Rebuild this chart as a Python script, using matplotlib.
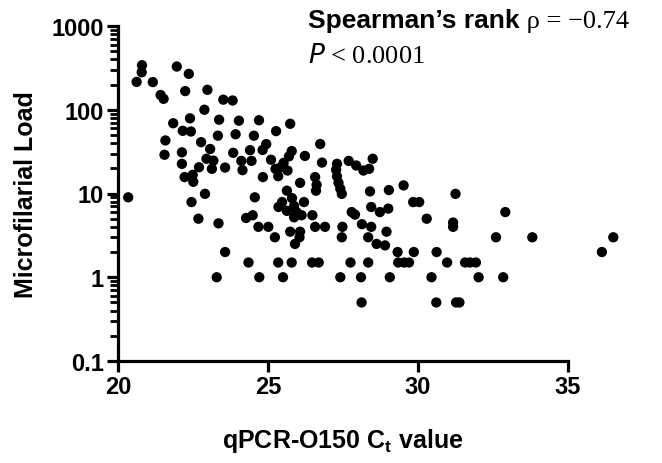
import matplotlib
matplotlib.use("Agg")
import matplotlib.pyplot as plt
from matplotlib.ticker import FixedLocator, FixedFormatter, LogLocator, NullFormatter

plt.rcParams['font.family'] = ['Liberation Sans', 'DejaVu Sans']
plt.rcParams['mathtext.fontset'] = 'custom'
plt.rcParams['mathtext.rm'] = 'Liberation Sans:bold'
plt.rcParams['mathtext.bf'] = 'Liberation Sans:bold'

# Ct values and microfilarial loads
ct = [20.34, 20.80, 20.79, 20.62, 21.16, 21.42, 21.52, 21.58, 21.55, 21.96,
      22.36, 22.24, 21.84, 22.16, 22.43, 22.40, 22.13, 22.13, 22.22, 22.49,
      22.51, 22.45, 22.68, 22.70, 22.98, 22.88, 23.51, 23.82, 23.37, 24.03,
      24.70, 23.33, 23.92, 24.53, 22.77, 23.07, 22.95, 23.18, 23.13, 23.84,
      24.40, 24.94, 24.82, 23.57, 24.11, 24.15, 24.45, 25.10, 25.25, 24.83,
      22.90, 23.35, 23.57, 23.29, 24.56, 24.27, 24.49, 24.68, 24.35, 24.71,
      25.27, 25.74, 25.01, 25.23, 25.43, 25.65, 25.52, 25.70, 25.79, 25.34,
      26.23, 26.07, 26.57, 26.62, 26.60, 25.63, 25.80, 25.47, 25.87, 26.20,
      25.35, 25.63, 25.95, 25.87, 26.12, 26.48, 25.74, 26.07, 26.05, 25.90,
      26.74, 26.80, 27.30, 27.69, 27.94, 28.18, 28.37, 28.49, 27.27, 27.30,
      27.35, 27.41, 27.46, 28.40, 29.03, 29.52, 31.25, 27.79, 27.90, 28.44,
      28.73, 29.01, 29.84, 30.04, 30.29, 31.17, 31.17, 26.57, 26.90, 27.48,
      27.46, 28.13, 28.44, 28.34, 28.95, 28.62, 28.90, 29.32, 29.86, 30.62,
      36.13, 32.60, 33.81, 36.51, 32.91,
      25.34, 25.79, 26.47, 26.69, 27.75, 28.34, 29.34, 29.54, 29.70, 30.97,
      31.57, 31.73, 31.93,
      25.50, 27.41, 28.10, 29.06, 30.45, 32.02, 32.84,
      28.12, 30.61, 31.27, 31.38]
mf = [9, 340, 280, 215, 214, 150, 135, 43, 29, 328,
      268, 167, 69, 56, 55, 79, 31, 22.6, 15.7, 16.7,
      13.8, 7.9, 5, 20.6, 173, 100, 132, 129, 76, 74,
      75, 49, 51, 49, 41, 34, 26, 24.7, 19.7, 30.6,
      32.9, 38.9, 33.1, 20.4, 24.5, 19, 24.5, 25.3, 19.7, 15.7,
      9.9, 4.4, 2, 1, 9.0, 5.1, 5.5, 4, 1.5, 1,
      55.6, 68, 4, 3, 20.6, 18.8, 23.2, 27.8, 32.1, 16.1,
      28.1, 13.4, 15.7, 12.7, 10.8, 10.8, 8.8, 7.9, 7.1, 7.9,
      6.9, 6.2, 6, 5.2, 5.5, 5.5, 3.5, 3.5, 3, 2.5,
      39, 23.4, 22.6, 24.5, 21.6, 18.8, 19.7, 26, 19.2, 16,
      13.4, 11.4, 9.9, 10.6, 11, 12.5, 9.9, 6, 5.6, 6.9,
      6, 6.6, 7.9, 7.9, 5, 4.5, 4, 4, 4, 4,
      3, 4.3, 4, 3, 3.5, 2.5, 2.4, 2, 2, 2,
      2, 3, 3, 3, 6,
      1.5, 1.5, 1.5, 1.5, 1.5, 1.5, 1.5, 1.5, 1.5, 1.5,
      1.5, 1.5, 1.5,
      1, 1, 1, 1, 1, 1, 1,
      0.5, 0.5, 0.5, 0.5]

x_ticks = [20, 25, 30, 35]
y_ticks = [0.1, 1, 10, 100, 1000]
y_tick_labels = ['0.1', '1', '10', '100', '1000']

W, H = 662, 464
fig = plt.figure(figsize=(W / 100, H / 100), dpi=100)
left, right, top, bottom = 118, 568, 27, 362
ax = fig.add_axes([left / W, 1 - bottom / H, (right - left) / W, (bottom - top) / H])

ax.scatter(ct, mf, s=55, color='black', edgecolors='none', clip_on=False, zorder=3)

ax.set_yscale('log')
ax.set_xlim(20, 35)
ax.set_ylim(0.1, 1000)

ax.xaxis.set_major_locator(FixedLocator(x_ticks))
ax.set_xticklabels([str(t) for t in x_ticks])
ax.yaxis.set_major_locator(FixedLocator(y_ticks))
ax.yaxis.set_major_formatter(FixedFormatter(y_tick_labels))
ax.yaxis.set_minor_locator(LogLocator(base=10, subs=range(2, 10)))
ax.yaxis.set_minor_formatter(NullFormatter())
ax.xaxis.set_minor_locator(FixedLocator([]))

for side in ['top', 'right']:
    ax.spines[side].set_visible(False)
for side in ['left', 'bottom']:
    ax.spines[side].set_linewidth(2.3)
    ax.spines[side].set_capstyle('projecting')

ax.tick_params(axis='both', which='major', direction='out', length=8, width=2.3,
               labelsize=17, pad=2)
ax.tick_params(axis='y', which='minor', direction='out', length=5.5, width=2.0)
for lab in ax.get_xticklabels() + ax.get_yticklabels():
    lab.set_fontweight('bold')

ax.set_ylabel('Microfilarial Load', fontsize=18, fontweight='bold', labelpad=10)
ax.set_xlabel(r'qPCR-O150 C$_{\mathrm{t}}$ value', fontsize=18, fontweight='bold', labelpad=20)

t1 = fig.text(308 / W, 1 - 28 / H, "Spearman\u2019s rank", fontsize=19, fontweight='bold',
              ha='left', va='baseline')
ax.annotate(" \u03c1 = \u22120.74", xy=(1, 0), xycoords=t1, ha='left', va='bottom',
            fontsize=19, family='Liberation Serif')
fig.text(308 / W, 1 - 63 / H, "$\\it{P}$ < 0.0001", fontsize=19, family='Liberation Serif',
         ha='left', va='baseline')

fig.savefig('out.png', dpi=100)
